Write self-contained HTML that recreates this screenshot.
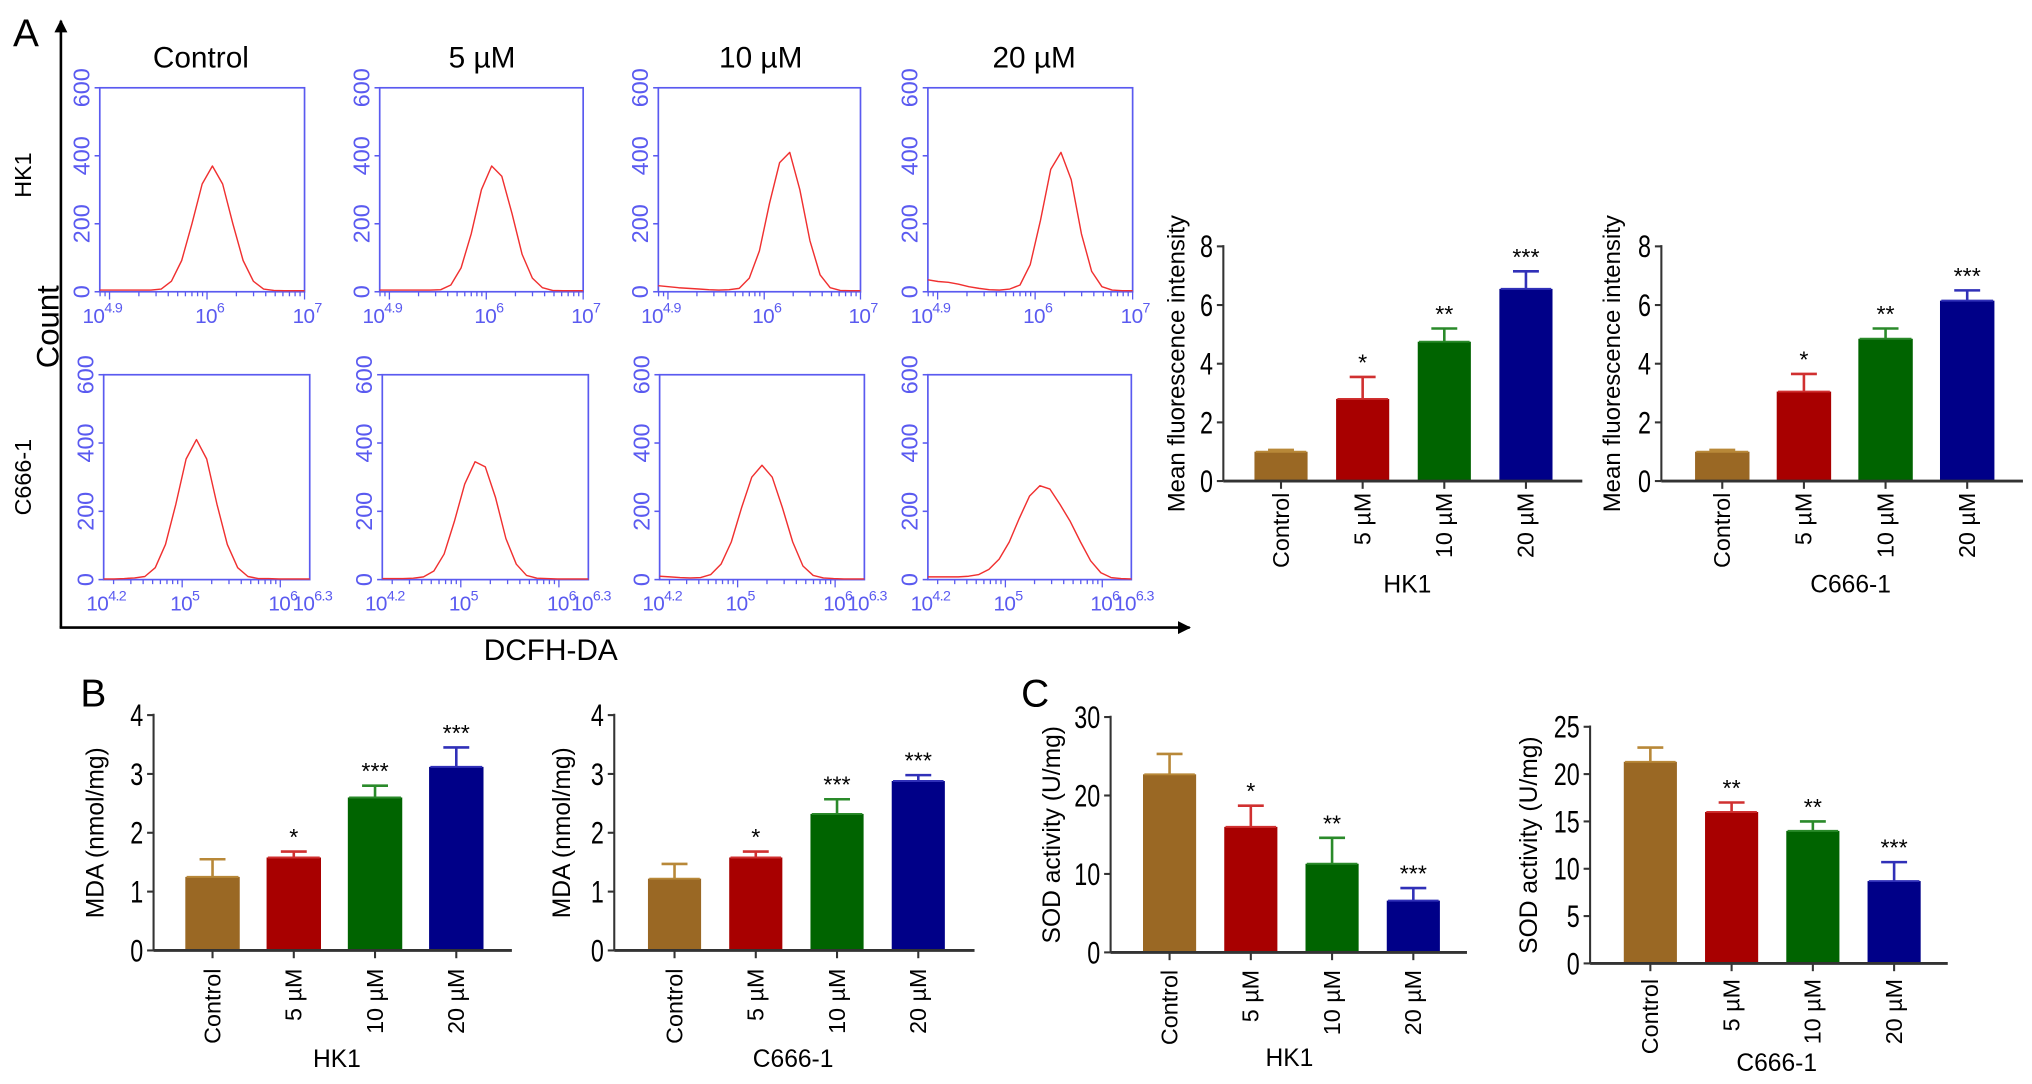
<!DOCTYPE html>
<html><head><meta charset="utf-8"><style>
html,body{margin:0;padding:0;background:#fff;}
svg{display:block;font-family:"Liberation Sans",sans-serif;}
</style></head><body>
<svg id="fig" width="2032" height="1084" viewBox="0 0 1568 836" preserveAspectRatio="none" xmlns="http://www.w3.org/2000/svg">
<defs><marker id="arr" markerWidth="10" markerHeight="10" refX="9" refY="5" orient="auto" markerUnits="userSpaceOnUse"><path d="M0,0 L10,5 L0,10 z" fill="#000"/></marker></defs>
<text x="10" y="36" font-size="30">A</text>
<text x="62" y="545" font-size="30">B</text>
<text x="788" y="545" font-size="30">C</text>
<line x1="47" y1="484" x2="47" y2="16" stroke="#000" stroke-width="2" marker-end="url(#arr)"/>
<line x1="46" y1="484" x2="918" y2="484" stroke="#000" stroke-width="2" marker-end="url(#arr)"/>
<text transform="translate(45,252) rotate(-90)" text-anchor="middle" font-size="24">Count</text>
<text x="425" y="509" text-anchor="middle" font-size="23">DCFH-DA</text>
<text x="155" y="52" text-anchor="middle" font-size="23">Control</text>
<text x="372" y="52" text-anchor="middle" font-size="23">5 µM</text>
<text x="587" y="52" text-anchor="middle" font-size="23">10 µM</text>
<text x="798" y="52" text-anchor="middle" font-size="23">20 µM</text>
<text transform="translate(24,135) rotate(-90)" text-anchor="middle" font-size="18">HK1</text>
<text transform="translate(24,368) rotate(-90)" text-anchor="middle" font-size="18">C666-1</text>
<g id="flow"></g>
<g id="bars"></g>
</svg>
<script>
// ---- Flow cytometry histogram data (count at 21 evenly spaced positions along log x-axis) ----
const flowTopLabels=[['4.9',0],['6',1.1/2.1],['7',1]];
const flowBotLabels=[['4.2',0],['5',0.8/2.1],['6',1.8/2.1],['6.3',1]];
const yTicksFlow=[0,200,400,600];
const histHK1Control=[5,5,5,5,5,5,8,31,92,200,317,370,317,200,92,31,8,4,3,3,3];
const histHK1Dose5=[5,5,5,5,5,5,6,20,70,170,300,370,340,230,110,40,12,4,3,3,3];
const histHK1Dose10=[18,15,12,10,8,6,5,6,10,40,120,260,380,410,300,150,50,12,4,3,3];
const histHK1Dose20=[35,30,28,22,15,10,6,5,8,20,80,210,360,410,330,170,60,15,5,3,3];
const histC666Control=[2,2,3,5,9,35,103,221,353,410,353,221,103,35,9,3,3,2,2,2,2];
const histC666Dose5=[3,3,3,4,8,25,75,170,280,345,330,240,120,45,12,4,3,2,2,2,2];
const histC666Dose10=[10,8,6,5,6,15,45,110,210,300,335,300,210,110,40,12,5,3,2,2,2];
const histC666Dose20=[8,8,8,8,10,15,30,60,110,180,245,275,265,220,170,110,55,20,6,3,2];

// ---- Bar chart data ----
const barCats=['Control','5 µM','10 µM','20 µM'];
const mfiHK1=[1.0,2.8,4.75,6.55];
const mfiHK1Err=[0.06,0.75,0.45,0.6];
const mfiHK1Stars=['','*','**','***'];
const mfiC666=[1.0,3.05,4.85,6.15];
const mfiC666Err=[0.06,0.6,0.35,0.35];
const mfiC666Stars=['','*','**','***'];
const mdaHK1=[1.25,1.58,2.6,3.12];
const mdaHK1Err=[0.3,0.1,0.2,0.33];
const mdaHK1Stars=['','*','***','***'];
const mdaC666=[1.22,1.58,2.32,2.88];
const mdaC666Err=[0.25,0.1,0.25,0.1];
const mdaC666Stars=['','*','***','***'];
const sodHK1=[22.7,16.0,11.3,6.6];
const sodHK1Err=[2.6,2.7,3.3,1.6];
const sodHK1Stars=['','*','**','***'];
const sodC666=[21.3,16.0,14.0,8.7];
const sodC666Err=[1.5,1.0,1.0,2.0];
const sodC666Stars=['','**','**','***'];

const NS='http://www.w3.org/2000/svg';
function mk(tag,attrs,parent){const e=document.createElementNS(NS,tag);for(const k in attrs)e.setAttribute(k,attrs[k]);parent.appendChild(e);return e;}

const flowG=document.getElementById('flow');
const BLUE='#5a5af0';
const topBoxes=[[77,235],[293,450],[508,664],[716,874]];
const botBoxes=[[80,239],[295,454],[509,667],[716,873]];
const topHists=[histHK1Control,histHK1Dose5,histHK1Dose10,histHK1Dose20];
const botHists=[histC666Control,histC666Dose5,histC666Dose10,histC666Dose20];
function drawFlow(box,top,bot,hist,labels,lo,hi,name){
  const g=mk('g',{},flowG);
  
  
  const [l,r]=box,w=r-l,h=bot-top;
  const frame=mk('rect',{x:l,y:top,width:w,height:h,fill:'none',stroke:BLUE,'stroke-width':1.3},g);
  
  
  yTicksFlow.forEach(v=>{
    const y=bot-v/600*h;
    mk('line',{x1:l-4,y1:y,x2:l,y2:y,stroke:BLUE,'stroke-width':1.2},g);
    const t=mk('text',{transform:`translate(${l-8},${y}) rotate(-90)`,'text-anchor':'middle','font-size':18,fill:BLUE},g);
    t.textContent=v;
    
    
  });
  for(let d=Math.floor(lo);d<=Math.ceil(hi);d++){
    for(let k=1;k<10;k++){
      const lv=d+Math.log10(k);
      if(lv<lo-1e-9||lv>hi+1e-9)continue;
      const x=l+(lv-lo)/(hi-lo)*w;
      mk('line',{x1:x,y1:bot,x2:x,y2:bot+(k===1?6:3.5),stroke:BLUE,'stroke-width':1},g);
    }
  }
  labels.forEach(([e,f])=>{
    const x=l+f*w;
    const t=mk('text',{x:x+2,y:bot+24,'text-anchor':'middle','font-size':16,'letter-spacing':'-0.5',fill:BLUE},g);
    
    
    const a=mk('tspan',{},t);a.textContent='10';
    const b=mk('tspan',{dy:-8,'font-size':11},t);b.textContent=e;
  });
  const pts=hist.map((v,i)=>`${(l+i/(hist.length-1)*w).toFixed(1)},${(bot-v/600*h).toFixed(1)}`).join(' ');
  const pl=mk('polyline',{points:pts,fill:'none',stroke:'#f03030','stroke-width':1.1,'stroke-linejoin':'round'},g);
  
  
}
const doseNames=['control','5um','10um','20um'];
topBoxes.forEach((b,i)=>drawFlow(b,67.7,225,topHists[i],flowTopLabels,4.9,7,'hk1-histogram-'+doseNames[i]));
botBoxes.forEach((b,i)=>drawFlow(b,289,447,botHists[i],flowBotLabels,4.2,6.3,'c666-histogram-'+doseNames[i]));

// ---- Bar charts ----
const barsG=document.getElementById('bars');
const FILL=['#9a6824','#a80000','#006400','#000088'];
const ERR=['#b88838','#d03030','#2a8a2a','#3030b8'];
function drawBar(c,vals,errs,stars,name){
  const g=mk('g',{},barsG);
  
  
  const yS=v=>c.y0-v/c.max*(c.y0-c.yTop);
  vals.forEach((v,i)=>{
    const x=c.bar0+i*c.pitch, cx=x+c.bw/2;
    const ey=yS(v+errs[i]);
    const el=mk('line',{x1:cx,y1:yS(v),x2:cx,y2:ey,stroke:ERR[i],'stroke-width':2},g);
    
    
    mk('line',{x1:cx-10,y1:ey,x2:cx+10,y2:ey,stroke:ERR[i],'stroke-width':2},g);
    const r=mk('rect',{x:x,y:yS(v),width:c.bw,height:c.y0-yS(v),fill:FILL[i]},g);
    
    
    mk('line',{x1:x+1,y1:yS(v),x2:x+c.bw-1,y2:yS(v),stroke:ERR[i],'stroke-width':1.5},g);
    if(stars[i]){
      const s=mk('text',{x:cx,y:ey-5,'text-anchor':'middle','font-size':18},g);
      s.textContent=stars[i];
      
      
    }
    mk('line',{x1:cx,y1:c.y0,x2:cx,y2:c.y0+6,stroke:'#333','stroke-width':1.6},g);
    const t=mk('text',{transform:`translate(${cx+6},${c.catTop}) rotate(-90)`,'text-anchor':'end','font-size':18},g);
    t.textContent=barCats[i];
    
    
  });
  const ya=mk('line',{x1:c.ax,y1:c.yTop-1,x2:c.ax,y2:c.y0,stroke:'#333','stroke-width':1.6},g);
  
  
  const xa=mk('line',{x1:c.ax,y1:c.y0,x2:c.end,y2:c.y0,stroke:'#333','stroke-width':2.2},g);
  
  
  for(let v=0;v<=c.max+1e-9;v+=c.step){
    const y=yS(v);
    mk('line',{x1:c.ax-5,y1:y,x2:c.ax,y2:y,stroke:'#333','stroke-width':1.6},g);
    const t=mk('text',{x:c.ax-8,y:y+7,'text-anchor':'end','font-size':20},g);
    t.setAttribute('transform',`translate(${c.ax-8},${y}) scale(0.9,1.2) translate(${-(c.ax-8)},${-y})`);
    t.textContent=v;
    
    
  }
  const yl=mk('text',{transform:`translate(${c.ylx},${(c.y0+c.yTop)/2}) rotate(-90)`,'text-anchor':'middle','font-size':c.ylfs||19},g);
  yl.textContent=c.ylabel;
  
  
  const gl=mk('text',{x:c.gx,y:c.gy,'text-anchor':'middle','font-size':19},g);
  gl.textContent=c.group;
  
  
}
drawBar({ax:944,y0:371,yTop:190,max:8,step:2,bar0:968,pitch:63,bw:41,end:1221,ylx:914,ylabel:'Mean fluorescence intensity',ylfs:18.5,group:'HK1',gx:1086,gy:457,catTop:380},mfiHK1,mfiHK1Err,mfiHK1Stars,'mfi-hk1-chart');
drawBar({ax:1282,y0:371,yTop:190,max:8,step:2,bar0:1308,pitch:63,bw:42,end:1561,ylx:1250,ylabel:'Mean fluorescence intensity',ylfs:18.5,group:'C666-1',gx:1428,gy:457,catTop:380},mfiC666,mfiC666Err,mfiC666Stars,'mfi-c666-chart');
drawBar({ax:118.5,y0:733,yTop:551.5,max:4,step:1,bar0:143,pitch:62.7,bw:42,end:395,ylx:80,ylabel:'MDA (nmol/mg)',group:'HK1',gx:260,gy:823,catTop:747},mdaHK1,mdaHK1Err,mdaHK1Stars,'mda-hk1-chart');
drawBar({ax:474,y0:733,yTop:551.5,max:4,step:1,bar0:500,pitch:62.7,bw:41,end:752,ylx:440,ylabel:'MDA (nmol/mg)',group:'C666-1',gx:612,gy:823,catTop:747},mdaC666,mdaC666Err,mdaC666Stars,'mda-c666-chart');
drawBar({ax:857,y0:734.5,yTop:553,max:30,step:10,bar0:882,pitch:62.7,bw:41,end:1132,ylx:818,ylabel:'SOD activity (U/mg)',group:'HK1',gx:995,gy:822,catTop:748},sodHK1,sodHK1Err,sodHK1Stars,'sod-hk1-chart');
drawBar({ax:1227,y0:743,yTop:560.5,max:25,step:5,bar0:1253,pitch:62.7,bw:41,end:1503,ylx:1186,ylabel:'SOD activity (U/mg)',group:'C666-1',gx:1371,gy:826,catTop:755},sodC666,sodC666Err,sodC666Stars,'sod-c666-chart');
</script>
</body></html>
